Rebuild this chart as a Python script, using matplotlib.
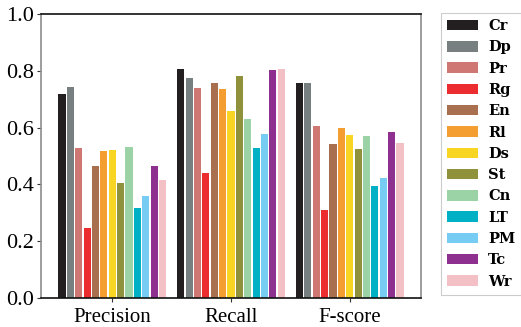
import matplotlib
matplotlib.use('Agg')
import matplotlib.pyplot as plt
import numpy as np

metrics = ['Precision', 'Recall', 'F-score']
methods = ['Cr', 'Dp', 'Pr', 'Rg', 'En', 'Rl', 'Ds', 'St', 'Cn', 'LT', 'PM', 'Tc', 'Wr']
colors = ['#231f20', '#787f80', '#cf7873', '#ec2d2f', '#a8704f', '#f49d31', '#f8d423',
          '#8f913b', '#9bd3a6', '#00b1c5', '#76ccf2', '#8e3090', '#f2c0c5']

precision = [0.718, 0.743, 0.528, 0.246, 0.465, 0.518, 0.521, 0.405, 0.532, 0.317, 0.359, 0.465, 0.415]
recall = [0.806, 0.775, 0.739, 0.440, 0.757, 0.736, 0.658, 0.782, 0.630, 0.528, 0.577, 0.803, 0.806]
fscore = [0.757, 0.757, 0.606, 0.310, 0.542, 0.599, 0.574, 0.525, 0.570, 0.394, 0.423, 0.585, 0.546]

yticks = [0.0, 0.2, 0.4, 0.6, 0.8, 1.0]

values = np.array([precision, recall, fscore])  # rows: metric, cols: method
x = np.arange(len(metrics))
step = 0.0705
width = 0.06

fig = plt.figure(figsize=(5.21, 3.27), dpi=100)
ax = fig.add_axes([41 / 521, 1 - 298 / 327, 380 / 521, 284 / 327])

for i, name in enumerate(methods):
    ax.bar(x + (i - 6) * step, values[:, i], width=width, color=colors[i], label=name)

ax.set_xlim(-0.6, 2.6)
ax.set_ylim(0, 1.0)
ax.set_xticks(x)
ax.set_xticklabels(metrics, family='Liberation Serif', fontsize=15)
ax.set_yticks(yticks)
ax.set_yticklabels([f'{v:.1f}' for v in yticks], family='Liberation Serif', fontsize=16)
ax.tick_params(axis='both', direction='out', length=3, width=0.8, color='#333333', pad=2)
ax.tick_params(axis='x', pad=4)

ax.spines['left'].set_color('#8c8c8c')
ax.spines['right'].set_color('#8c8c8c')
ax.spines['top'].set_color('#111111')
ax.spines['bottom'].set_color('#111111')
for s in ax.spines.values():
    s.set_linewidth(1.2)

leg = ax.legend(loc='upper left', bbox_to_anchor=(441 / 521, 1 - 13 / 327),
                bbox_transform=fig.transFigure, borderaxespad=0,
                prop={'family': 'DejaVu Serif', 'weight': 'bold', 'size': 10.5},
                handlelength=2.1, handleheight=0.72, labelspacing=0.5,
                handletextpad=0.7, borderpad=0.42, fancybox=False,
                edgecolor='#cccccc', framealpha=1)
leg.get_frame().set_linewidth(0.8)

fig.savefig('out.png', dpi=100)
plt.close(fig)
